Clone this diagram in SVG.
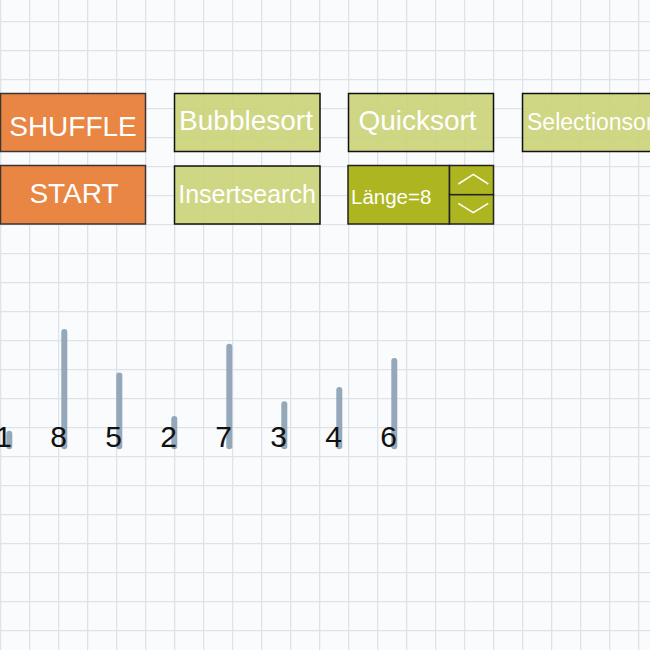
<svg xmlns="http://www.w3.org/2000/svg" width="650" height="650" viewBox="0 0 650 650">
<defs>
<pattern id="grid" x="0" y="21" width="29" height="29" patternUnits="userSpaceOnUse">
<path d="M0.5 0 V29 M0 0.5 H29" stroke="#dfe2e7" stroke-width="1.6" fill="none"/>
</pattern>
<style>
.btn-o{fill:#e8803a;fill-opacity:0.95;stroke:#3a3530;stroke-width:1.5}
.btn-l{fill:#cbd27a;fill-opacity:0.92;stroke:#111;stroke-width:1.5}
.btn-d{fill:#a9b214;fill-opacity:0.95;stroke:#222;stroke-width:1.5}
.t{font-family:"Liberation Sans",Arial,sans-serif;fill:#fff}
.num{font-family:"Liberation Sans",Arial,sans-serif;fill:#111;font-size:30px;text-anchor:middle}
.bar{stroke:#8ea3b6;stroke-width:6;stroke-linecap:round;stroke-opacity:0.95}
.chev{fill:none;stroke:#fff;stroke-width:1.5}
</style>
</defs>
<rect width="650" height="650" fill="#fafbfd"/>
<rect width="650" height="650" fill="url(#grid)"/>

<g id="shuffle">
<rect class="btn-o" x="0.5" y="93.5" width="145" height="58"/>
<text class="t" x="73" y="136" font-size="28" text-anchor="middle">SHUFFLE</text>
</g>
<g id="start">
<rect class="btn-o" x="0.5" y="165.5" width="145" height="58.5"/>
<text class="t" x="74" y="203" font-size="28" text-anchor="middle">START</text>
</g>
<g id="bubblesort">
<rect class="btn-l" x="174.5" y="93.5" width="145.5" height="58"/>
<text class="t" x="246" y="130" font-size="28" text-anchor="middle">Bubblesort</text>
</g>
<g id="insertsearch">
<rect class="btn-l" x="174.5" y="166" width="145.5" height="58"/>
<text class="t" x="247" y="203" font-size="25" text-anchor="middle">Insertsearch</text>
</g>
<g id="quicksort">
<rect class="btn-l" x="348.5" y="93.5" width="145" height="58"/>
<text class="t" x="417.5" y="130" font-size="28" text-anchor="middle">Quicksort</text>
</g>
<g id="selectionsort">
<rect class="btn-l" x="522.5" y="93.5" width="160" height="58"/>
<text class="t" x="527" y="130" font-size="23">Selectionsort</text>
</g>
<g id="laenge">
<rect class="btn-d" x="348" y="165.5" width="101.5" height="58.5"/>
<text class="t" x="351" y="204" font-size="20.5">Länge=8</text>
</g>
<g id="laenge-up">
<rect class="btn-d" x="449.5" y="165.5" width="44" height="29.2"/>
<polyline class="chev" points="458.3,184 473.3,174.3 488.3,184"/>
</g>
<g id="laenge-down">
<rect class="btn-d" x="449.5" y="194.7" width="44" height="29.3"/>
<polyline class="chev" points="458.3,203.3 473.3,212.7 488.3,203.3"/>
</g>

<g id="bar-1"><line class="bar" x1="9.3" y1="446.3" x2="9.3" y2="433.7"/><text class="num" x="3.7" y="446.7">1</text></g>
<g id="bar-8"><line class="bar" x1="64.3" y1="446.3" x2="64.3" y2="332"/><text class="num" x="58.7" y="446.7">8</text></g>
<g id="bar-5"><line class="bar" x1="119.3" y1="446.3" x2="119.3" y2="375.5"/><text class="num" x="113.7" y="446.7">5</text></g>
<g id="bar-2"><line class="bar" x1="174.3" y1="446.3" x2="174.3" y2="419"/><text class="num" x="168.7" y="446.7">2</text></g>
<g id="bar-7"><line class="bar" x1="229.3" y1="446.3" x2="229.3" y2="346.7"/><text class="num" x="223.7" y="446.7">7</text></g>
<g id="bar-3"><line class="bar" x1="284.3" y1="446.3" x2="284.3" y2="404.3"/><text class="num" x="278.7" y="446.7">3</text></g>
<g id="bar-4"><line class="bar" x1="339.3" y1="446.3" x2="339.3" y2="390"/><text class="num" x="333.7" y="446.7">4</text></g>
<g id="bar-6"><line class="bar" x1="394.3" y1="446.3" x2="394.3" y2="361"/><text class="num" x="388.7" y="446.7">6</text></g>
</svg>
